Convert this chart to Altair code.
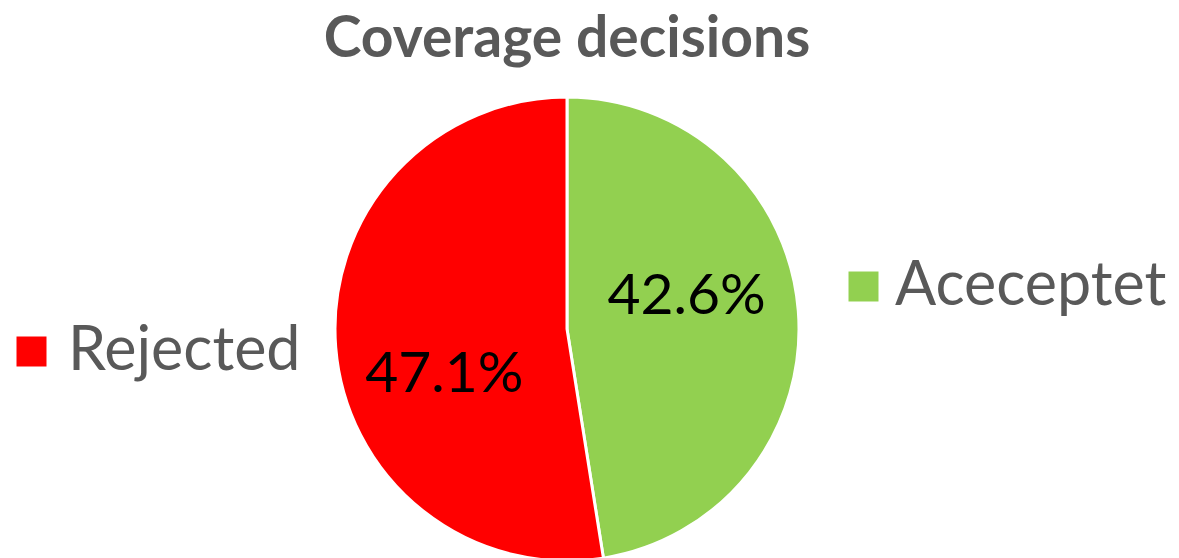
import altair as alt
import pandas as pd

categories = ["Aceceptet", "Rejected"]
values = [42.6, 47.1]
colors = ["#92D050", "#FF0000"]

df = pd.DataFrame({"category": categories, "value": values})

FONT = "Lato"
GRAY = "#595959"

base = alt.Chart(df)

theta = alt.Theta("value:Q", stack=True)
order = alt.Order("category:N", sort="ascending")

arc = base.mark_arc(outerRadius=232, stroke="white", strokeWidth=3).encode(
    theta=theta,
    order=order,
    color=alt.Color("category:N", scale=alt.Scale(domain=categories, range=colors), legend=None),
)

lab_expr = "format(datum.value, '.1f') + '%'"

green_lab = base.transform_calculate(
    lab=f"datum.category == 'Aceceptet' ? {lab_expr} : ''"
).mark_text(radius=124, fontSize=57, font=FONT, color="black", dx=-4, dy=-22).encode(
    theta=theta, order=order, text="lab:N"
)

red_lab = base.transform_calculate(
    lab=f"datum.category == 'Rejected' ? {lab_expr} : ''"
).mark_text(radius=124, fontSize=57, font=FONT, color="black", dx=1, dy=36).encode(
    theta=theta, order=order, text="lab:N"
)


def legend_layer(cat, color, lx, ly, offset):
    return base.transform_filter(f"datum.category == '{cat}'").mark_text(text="").encode(
        color=alt.Color(
            "category:N",
            scale=alt.Scale(domain=[cat], range=[color]),
            legend=alt.Legend(
                orient="none", legendX=lx, legendY=ly, title=None,
                symbolType="square", symbolSize=900, symbolStrokeWidth=0,
                symbolOpacity=1, symbolFillColor=color,
                labelFontSize=61, labelFont=FONT, labelColor=GRAY,
                labelOffset=offset, labelLimit=500, padding=0,
            ),
        )
    )


leg_green = legend_layer("Aceceptet", colors[0], 833, 159, 1)
leg_red = legend_layer("Rejected", colors[1], 1, 224, 6)

chart = alt.layer(arc, green_lab, red_lab, leg_green, leg_red).resolve_scale(
    color="independent"
).resolve_legend(color="independent").properties(
    width=1134,
    height=464,
    padding={"left": 0, "top": 97, "right": 45, "bottom": 0},
    autosize=alt.AutoSizeParams(type="none"),
    title=alt.TitleParams(
        "Coverage decisions", fontSize=57, font=FONT, fontWeight="bold",
        color=GRAY, anchor="middle", baseline="alphabetic", offset=42, dy=65,
    ),
).configure_view(stroke=None).configure(background="white")

chart.save("out.html", embed_options={"renderer": "svg", "actions": False})
